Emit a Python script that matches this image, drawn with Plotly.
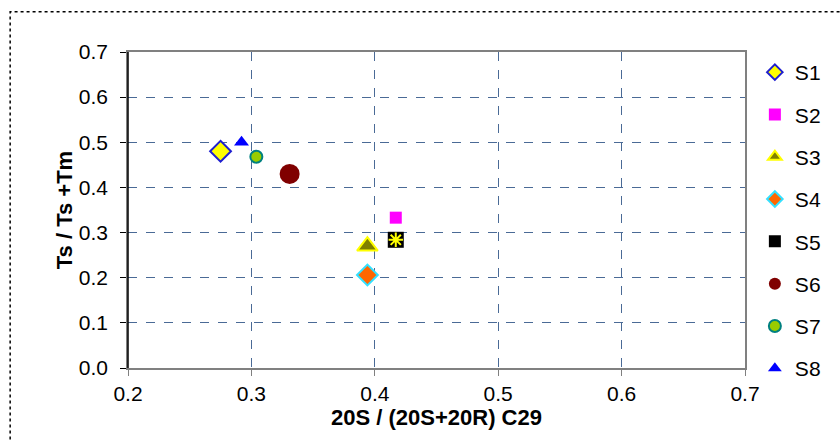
import plotly.graph_objects as go

# Sample values: C29 sterane isomerisation vs. Ts/(Ts+Tm)
samples = ["S1", "S2", "S3", "S4", "S5", "S6", "S7", "S8"]
ratio_20s = [0.275, 0.417, 0.394, 0.394, 0.417, 0.331, 0.304, 0.292]
ts_ratio = [0.48, 0.333, 0.27, 0.206, 0.284, 0.43, 0.468, 0.50]

x_ticks = [0.2, 0.3, 0.4, 0.5, 0.6, 0.7]
y_ticks = [0.0, 0.1, 0.2, 0.3, 0.4, 0.5, 0.6, 0.7]

styles = {
    "S1": dict(symbol="diamond", size=16, color="#ffff00", line=dict(color="#1f1fd0", width=2)),
    "S2": dict(symbol="square", size=12, color="#ff00ff", line=dict(color="#ff00ff", width=0)),
    "S3": dict(symbol="triangle-up", size=18, color="#808000", line=dict(color="#ffff00", width=2)),
    "S4": dict(symbol="diamond", size=16, color="#ff6600", line=dict(color="#33e0ff", width=2)),
    "S5": dict(symbol="square", size=16, color="#000000", line=dict(color="#000000", width=0)),
    "S6": dict(symbol="circle", size=20, color="#800000", line=dict(color="#800000", width=0)),
    "S7": dict(symbol="circle", size=12, color="#99cc00", line=dict(color="#008080", width=2)),
    "S8": dict(symbol="triangle-up", size=13, color="#0000ff", line=dict(color="#0000ff", width=0)),
}

fig = go.Figure()
for name, xv, yv in zip(samples, ratio_20s, ts_ratio):
    fig.add_trace(go.Scatter(
        x=[xv], y=[yv], mode="markers", name=name, legendgroup=name,
        marker=styles[name],
    ))
    if name == "S5":
        # yellow asterisk drawn over the black square
        fig.add_trace(go.Scatter(
            x=[xv], y=[yv], mode="markers", name=name, legendgroup=name,
            showlegend=False,
            marker=dict(symbol="asterisk-open", size=12, color="#ffff00",
                        line=dict(color="#ffff00", width=2)),
        ))

family = "Liberation Sans, Arial, sans-serif"
axis_font = dict(family=family, size=21, color="#000000")
title_font = dict(family=family, size=22, color="#000000")

fig.update_layout(
    width=840, height=440,
    margin=dict(l=128, r=95, t=52, b=72),
    paper_bgcolor="#ffffff", plot_bgcolor="#ffffff",
    font=axis_font,
    showlegend=True,
    legend=dict(x=1.016, y=1.0, xanchor="left", yanchor="top",
                font=dict(family=family, size=21, color="#000000"),
                tracegroupgap=12, itemwidth=30, itemsizing="constant",
                maxheight=430,
                bgcolor="rgba(0,0,0,0)"),
    xaxis=dict(
        range=[0.2, 0.7], tickvals=x_ticks,
        ticktext=[f"{v:.1f}" for v in x_ticks],
        showgrid=True, gridcolor="#4a6a96", griddash="dash", gridwidth=1,
        zeroline=False, showline=True, linecolor="#808080", linewidth=1.5,
        mirror=True, ticks="outside", ticklen=6, tickcolor="#808080",
        title=dict(text="<b>20S / (20S+20R) C29</b>", font=title_font, standoff=2),
        tickfont=axis_font,
    ),
    yaxis=dict(
        range=[0.0, 0.7], tickvals=y_ticks,
        ticktext=[f"{v:.1f}" for v in y_ticks],
        showgrid=True, gridcolor="#4a6a96", griddash="dash", gridwidth=1,
        zeroline=False, showline=True, linecolor="#808080", linewidth=1.5,
        mirror=True, ticks="outside", ticklen=6, tickcolor="#000000",
        ticklabelstandoff=8,
        title=dict(text="<b>Ts / Ts +Tm</b>", font=title_font, standoff=0),
        tickfont=axis_font,
    ),
    shapes=[
        # dotted frame around the chart area
        dict(type="rect", xref="paper", yref="paper",
             x0=-0.191, x1=1.2, y0=-0.3, y1=1.127,
             line=dict(color="#000000", width=1.5, dash="dot"),
             fillcolor="rgba(0,0,0,0)", layer="below"),
        # black left axis line
        dict(type="line", xref="paper", yref="paper",
             x0=0, x1=0, y0=0, y1=1,
             line=dict(color="#000000", width=1.5)),
    ],
)

fig.write_html("out.html")
